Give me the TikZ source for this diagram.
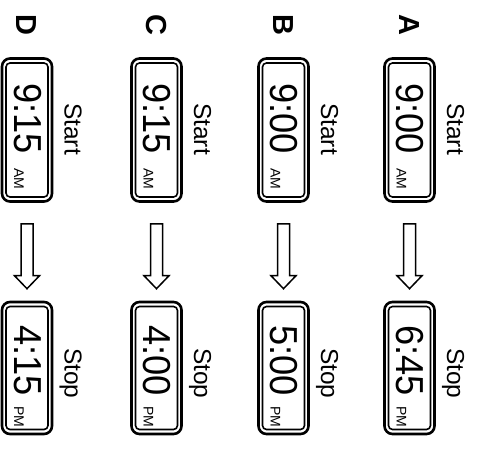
\documentclass[tikz,border=0pt]{standalone}
\usepackage{fontspec}
\setmainfont{Liberation Sans}
\usetikzlibrary{calc}
\begin{document}
\begin{tikzpicture}[x=1pt,y=-1pt,
  lcdout/.style={draw=black,line width=2.6pt,rounded corners=8pt,minimum width=50pt,inner sep=0pt},
  lcdin/.style={draw=black,line width=1.6pt,rounded corners=4pt,minimum width=42pt,inner sep=0pt},
  rtxt/.style={rotate=-90,anchor=base west,inner sep=0pt},
  digits/.style={rtxt,font=\fontsize{39}{39}\selectfont},
  ampm/.style={rtxt,font=\fontsize{14}{14}\selectfont},
  lbl/.style={rtxt,font=\fontsize{24.5}{24.5}\selectfont},
  letter/.style={rtxt,font=\bfseries\fontsize{29}{29}\selectfont},
  blockarr/.style={draw=black,line width=1.5pt,fill=white,line join=miter}]
\useasboundingbox (0,0) rectangle (482,466);
\foreach \cx/\L/\st/\en in {409.5/A/9:00/6:45, 283.5/B/9:00/5:00, 156.5/C/9:15/4:00, 27/D/9:15/4:15}{
  % letter
  \node[letter] (l\L) at (\cx-10.5,14) {\L};
  % start display
  \node[lcdout,minimum height=143pt] (s\L) at (\cx,130) {};
  \node[lcdin,minimum height=134pt] (si\L) at (s\L.center) {};
  \node[digits] (sd\L) at (\cx-13,83) {\scalebox{0.93}[1]{\st}};
  \node[ampm] (sa\L) at (\cx-13,168) {AM};
  \node[lbl] (st\L) at (\cx+37.5,103) {Start};
  % stop display
  \node[lcdout,minimum height=132pt] (e\L) at (\cx,368) {};
  \node[lcdin,minimum height=123pt] (ei\L) at (e\L.center) {};
  \node[digits] (ed\L) at (\cx-13,325) {\scalebox{0.93}[1]{\en}};
  \node[ampm] (ea\L) at (\cx-13,406) {PM};
  \node[lbl] (et\L) at (\cx+37.5,348) {Stop};
  % block arrow
  \draw[blockarr] ($(s\L.south)+(-6,21)$) -- ($(e\L.north)+(-6,-25)$) -- ($(e\L.north)+(-12.5,-25)$)
     -- ($(e\L.north)+(0,-12)$) -- ($(e\L.north)+(12.5,-25)$) -- ($(e\L.north)+(6,-25)$)
     -- ($(s\L.south)+(6,21)$) -- cycle;
}
\end{tikzpicture}
\end{document}
